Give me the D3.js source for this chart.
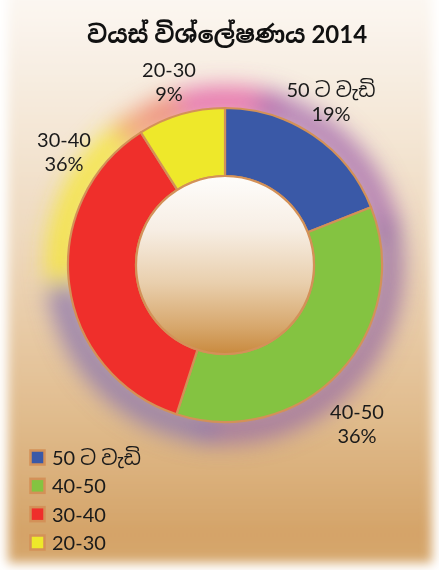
<!DOCTYPE html>
<html><head><meta charset="utf-8">
<script src="https://cdn.jsdelivr.net/npm/d3@7"></script>
<style>html,body{margin:0;padding:0;background:#fff;overflow:hidden}</style>
</head><body>
<script>
const categories = ["50 ට වැඩි", "40-50", "30-40", "20-30"];
const values = [19, 36, 36, 9];
const labels = ["19%", "36%", "36%", "9%"];
const colors = ["#3a59a7", "#84c341", "#ef2f2b", "#eee82a"];
const title = "වයස් විශ්ලේෂණය 2014";

const W = 439, H = 570;
const cx = 225, cy = 265, R = 157, r = 89;
const font = "Lato, 'Noto Sans', 'Noto Sans Sinhala', sans-serif";

const svg = d3.select("body").append("svg").attr("width", W).attr("height", H);
const defs = svg.append("defs");

const bg = defs.append("linearGradient").attr("id","bg").attr("x1",0).attr("y1",0).attr("x2",0).attr("y2",1);
[[0,"#fcf8f3"],[0.15,"#f7ede1"],[0.45,"#eed8bc"],[0.75,"#e0bb8c"],[0.95,"#d4a368"],[1,"#d6a86e"]]
  .forEach(([o,c])=>bg.append("stop").attr("offset",o).attr("stop-color",c));
defs.append("filter").attr("id","soft").attr("x","-5%").attr("y","-5%").attr("width","110%").attr("height","110%")
  .append("feGaussianBlur").attr("stdDeviation",5.5);
defs.append("filter").attr("id","glow").attr("x","-50%").attr("y","-50%").attr("width","200%").attr("height","200%")
  .append("feGaussianBlur").attr("stdDeviation",11);

const ig = defs.append("linearGradient").attr("id","inner").attr("x1",0).attr("y1",0).attr("x2",0).attr("y2",1);
[[0,"#fefdfb"],[0.3,"#f7eee4"],[0.6,"#e9cfad"],[0.85,"#d7a76c"],[1,"#c98a3e"]]
  .forEach(([o,c])=>ig.append("stop").attr("offset",o).attr("stop-color",c));

svg.append("rect").attr("x",8).attr("y",-10).attr("width",424).attr("height",573)
  .attr("fill","url(#bg)").attr("filter","url(#soft)");

// glow behind the donut
const glowSegs = [
  {a0:-0.5, a1:0.35, c:"#e45ca4"},
  {a0:0.2, a1:1.4, c:"#a66cae"},
  {a0:1.3, a1:3.3, c:"#986ea4"},
  {a0:3.2, a1:4.6, c:"#8c76ae"},
  {a0:4.6, a1:5.7, c:"#f5e630"},
  {a0:5.6, a1:6.0, c:"#f09a70"}
];
const glowArc = d3.arc().innerRadius(R-8).outerRadius(R+22);
const gg = svg.append("g").attr("transform",`translate(${cx},${cy})`).attr("filter","url(#glow)");
gg.selectAll("path").data(glowSegs).join("path")
  .attr("d", d=>glowArc({startAngle:d.a0,endAngle:d.a1}))
  .attr("fill", d=>d.c).attr("opacity",0.8);

const pie = d3.pie().sort(null).value(d=>d);
const arcs = pie(values);
const arc = d3.arc().innerRadius(r).outerRadius(R);
const g = svg.append("g").attr("transform",`translate(${cx},${cy})`);
g.selectAll("path.slice").data(arcs).join("path").attr("class","slice")
  .attr("d", arc).attr("fill",(d,i)=>colors[i])
  .attr("stroke","#d39158").attr("stroke-width",2.2).attr("stroke-linejoin","round");
g.append("circle").attr("r",r).attr("fill","url(#inner)").attr("stroke","#d39158").attr("stroke-width",2.2);

// title
svg.append("text").attr("x",227).attr("y",43).attr("text-anchor","middle")
  .attr("font-family",font).attr("font-weight","bold").attr("font-size",24).attr("fill","#111")
  .text(title);

// data labels
const labelPos = [[331,97],[357,419],[64,147],[169,77]];
const lg = svg.append("g").attr("font-family",font).attr("font-size",20).attr("fill","#1a1a1a").attr("text-anchor","middle");
arcs.forEach((d,i)=>{
  const t = lg.append("text").attr("x",labelPos[i][0]).attr("y",labelPos[i][1]);
  t.append("tspan").attr("x",labelPos[i][0]).text(categories[i]);
  t.append("tspan").attr("x",labelPos[i][0]).attr("dy",23.5).text(labels[i]);
});

// legend
const leg = svg.append("g").attr("font-family",font).attr("font-size",20).attr("fill","#1a1a1a");
const ly = d3.scalePoint().domain(categories).range([457.5,542.5]);
categories.forEach((c,i)=>{
  const y = ly(c);
  leg.append("rect").attr("x",30.5).attr("y",y-7).attr("width",14).attr("height",14)
    .attr("fill",colors[i]).attr("stroke","#d39158").attr("stroke-width",2.5);
  leg.append("text").attr("x",52).attr("y",y+7.5).text(c);
});
</script>
</body></html>
